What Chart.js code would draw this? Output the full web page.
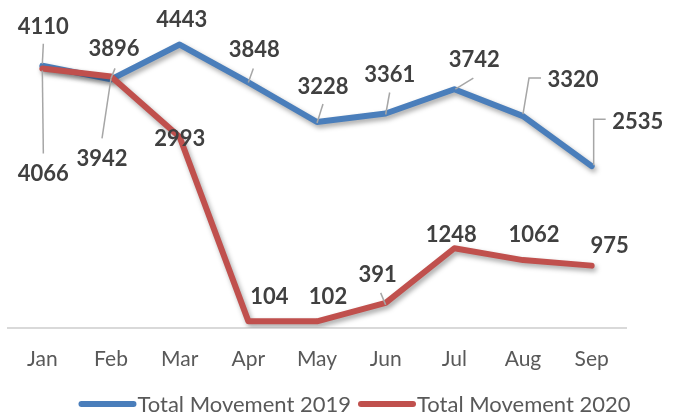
<!DOCTYPE html>
<html>
<head>
<meta charset="utf-8">
<script src="https://cdn.jsdelivr.net/npm/chart.js@4"></script>
<style>
  html, body { margin: 0; padding: 0; background: #fff; }
  #wrap { width: 678px; height: 413px; }
</style>
</head>
<body>
<div id="wrap"><canvas id="myChart" width="678" height="413"></canvas></div>
<script>
const months = ['Jan', 'Feb', 'Mar', 'Apr', 'May', 'Jun', 'Jul', 'Aug', 'Sep'];
const movement2019 = [4110, 3896, 4443, 3848, 3228, 3361, 3742, 3320, 2535];
const movement2020 = [4066, 3942, 2993, 104, 102, 391, 1248, 1062, 975];
const seriesNames = ['Total Movement 2019', 'Total Movement 2020'];

// label placement relative to each point (dx, dy), with optional leader polyline
const labelPos2019 = [
    { dx: 1, dy: -39, lead: [[1, -22], [0, -2]] },
    { dx: 3, dy: -30, lead: [[4, -11], [0, -1]] },
    { dx: 2, dy: -25 },
    { dx: 6, dy: -33, lead: [[5, -14], [0, 0]] },
    { dx: 6, dy: -35, lead: [[6, -18], [0, 1]] },
    { dx: 4, dy: -39, lead: [[4, -21], [0, 1]] },
    { dx: 20, dy: -29, lead: [[19, -11], [1, 0]] },
    { dx: 50, dy: -36, lead: [[18, -38], [6, -38], [0, -2]] },
    { dx: 46, dy: -44, lead: [[14, -47], [2, -47], [2, -1]] }
];
const labelPos2020 = [
    { dx: 1, dy: 105, lead: [[1, 85], [0, 2]] },
    { dx: -9, dy: 82, lead: [[-9, 62], [0, 2]] },
    { dx: 0, dy: 2 },
    { dx: 21, dy: -24 },
    { dx: 11, dy: -24 },
    { dx: -8, dy: -28, lead: [[-5, -10], [0, 2]] },
    { dx: -3, dy: -13 },
    { dx: 11, dy: -25 },
    { dx: 18, dy: -20 }
];

const FONT = 'Lato, "Open Sans", sans-serif';

const shadowPlugin = {
    id: 'lineShadow',
    beforeDatasetDraw(chart) {
        const ctx = chart.ctx;
        ctx.save();
        ctx.shadowColor = 'rgba(0,0,0,0.35)';
        ctx.shadowBlur = 5;
        ctx.shadowOffsetX = 2;
        ctx.shadowOffsetY = 3;
    },
    afterDatasetDraw(chart) {
        chart.ctx.restore();
    }
};

const labelPlugin = {
    id: 'valueLabels',
    afterDatasetsDraw(chart) {
        const ctx = chart.ctx;
        ctx.save();
        chart.data.datasets.forEach((ds, di) => {
            const meta = chart.getDatasetMeta(di);
            meta.data.forEach((pt, i) => {
                const pos = ds.labelPos[i];
                if (pos.lead) {
                    ctx.beginPath();
                    ctx.strokeStyle = '#a6a6a6';
                    ctx.lineWidth = 1.5;
                    pos.lead.forEach((p, k) => {
                        if (k === 0) ctx.moveTo(pt.x + p[0], pt.y + p[1]);
                        else ctx.lineTo(pt.x + p[0], pt.y + p[1]);
                    });
                    ctx.stroke();
                }
                ctx.fillStyle = '#404040';
                ctx.font = 'bold 22px ' + FONT;
                ctx.textAlign = 'center';
                ctx.textBaseline = 'middle';
                ctx.fillText(ds.data[i], pt.x + pos.dx, pt.y + pos.dy);
            });
        });
        ctx.restore();
    }
};

const legendPlugin = {
    id: 'bottomLegend',
    afterDraw(chart) {
        const ctx = chart.ctx;
        ctx.save();
        ctx.font = '22px ' + FONT;
        const sw = 58;
        const widths = chart.data.datasets.map(ds => ctx.measureText(ds.label).width);
        const total = sw * 2 + widths[0] + widths[1] + 8;
        let x = 354 - total / 2;
        const y = 404;
        chart.data.datasets.forEach((ds, i) => {
            ctx.beginPath();
            ctx.strokeStyle = ds.borderColor;
            ctx.lineWidth = 6;
            ctx.lineCap = 'round';
            ctx.moveTo(x + 3, y);
            ctx.lineTo(x + sw - 3, y);
            ctx.stroke();
            ctx.fillStyle = '#595959';
            ctx.textAlign = 'left';
            ctx.textBaseline = 'middle';
            ctx.fillText(ds.label, x + sw + 1, y + 1);
            x += sw + widths[i] + 8;
        });
        ctx.restore();
    }
};

new Chart(document.getElementById('myChart'), {
    type: 'line',
    data: {
        labels: months,
        datasets: [
            { label: seriesNames[0], data: movement2019, borderColor: '#4a7ebb', order: 1, labelPos: labelPos2019 },
            { label: seriesNames[1], data: movement2020, borderColor: '#c0504d', order: 0, labelPos: labelPos2020 }
        ]
    },
    options: {
        responsive: false,
        animation: false,
        layout: { padding: { left: 8, right: 52, top: 9, bottom: 30 } },
        elements: {
            line: { borderWidth: 6, tension: 0, borderCapStyle: 'round', borderJoinStyle: 'round', fill: false },
            point: { radius: 0, hoverRadius: 0 }
        },
        scales: {
            x: {
                offset: true,
                grid: { display: false },
                border: { display: true, color: '#d9d9d9', width: 2 },
                ticks: { padding: 11, color: '#595959', font: { family: FONT, size: 21 } }
            },
            y: { display: false, min: 0, max: 5000 }
        },
        plugins: { legend: { display: false }, tooltip: { enabled: false } }
    },
    plugins: [shadowPlugin, labelPlugin, legendPlugin]
});
</script>
</body>
</html>
